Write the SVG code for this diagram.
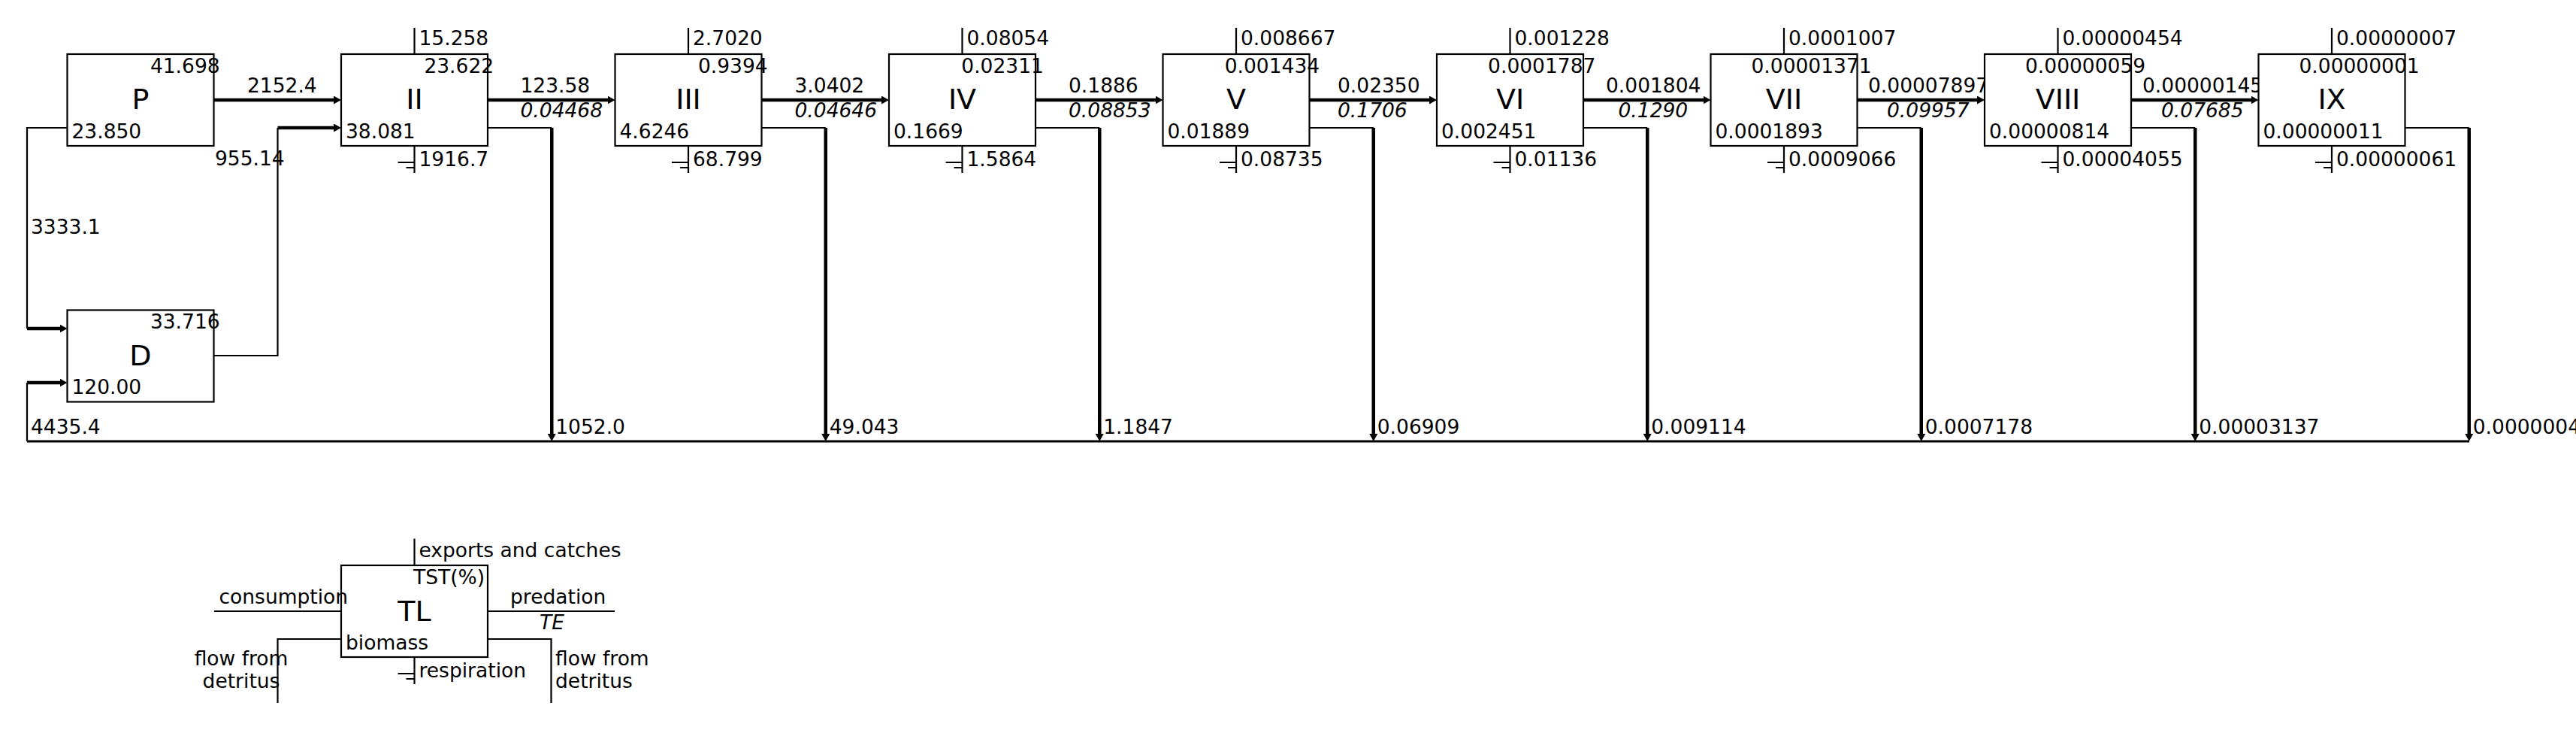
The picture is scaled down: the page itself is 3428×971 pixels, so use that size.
<svg xmlns="http://www.w3.org/2000/svg" width="3428" height="971" viewBox="0 0 3428 971">
<style>
.box{fill:#fff;stroke:#000;stroke-width:2.2}
.thin{fill:none;stroke:#000;stroke-width:2.2}
.thick{fill:none;stroke:#000;stroke-width:4.5}
.mid{fill:none;stroke:#000;stroke-width:3.2}
text{font-family:"DejaVu Sans","Liberation Sans",sans-serif;font-size:26.5px;fill:#000}
.it{font-style:italic}
.nm{font-size:38px;text-anchor:middle}
.ctr{text-anchor:middle}
</style>
<defs>
<marker id="ah" markerUnits="userSpaceOnUse" markerWidth="10" markerHeight="11" viewBox="0 0 10 11" refX="1" refY="5.5" orient="auto">
<path d="M0,0 L10,5.5 L0,11 z" fill="#000"/>
</marker>
</defs>
<rect width="3428" height="971" fill="#fff"/>
<g id="connectors">
<line class="thick" x1="284.5" y1="133" x2="445" y2="133" marker-end="url(#ah)"/>
<line class="thick" x1="649" y1="133" x2="809.5" y2="133" marker-end="url(#ah)"/>
<line class="thick" x1="1013.5" y1="133" x2="1174" y2="133" marker-end="url(#ah)"/>
<line class="thick" x1="1378" y1="133" x2="1538.5" y2="133" marker-end="url(#ah)"/>
<line class="thick" x1="1742.5" y1="133" x2="1903" y2="133" marker-end="url(#ah)"/>
<line class="thick" x1="2107" y1="133" x2="2267.5" y2="133" marker-end="url(#ah)"/>
<line class="thick" x1="2471.5" y1="133" x2="2632" y2="133" marker-end="url(#ah)"/>
<line class="thick" x1="2836" y1="133" x2="2996.5" y2="133" marker-end="url(#ah)"/>
<polyline class="thin" points="89.5,170 36,170 36,437"/>
<line class="thick" x1="36" y1="437" x2="80.5" y2="437" marker-end="url(#ah)"/>
<line class="thin" x1="36" y1="509" x2="36" y2="587"/>
<line class="thick" x1="36" y1="509" x2="80.5" y2="509" marker-end="url(#ah)"/>
<polyline class="thin" points="284.5,473 369.5,473 369.5,170"/>
<line class="thick" x1="369.5" y1="170" x2="445" y2="170" marker-end="url(#ah)"/>
<line class="mid" x1="36" y1="587" x2="3286" y2="587"/>
<line class="thin" x1="649" y1="170" x2="734.25" y2="170"/>
<line class="thick" x1="734.25" y1="170" x2="734.25" y2="578" marker-end="url(#ah)"/>
<line class="thin" x1="1013.5" y1="170" x2="1098.75" y2="170"/>
<line class="thick" x1="1098.75" y1="170" x2="1098.75" y2="578" marker-end="url(#ah)"/>
<line class="thin" x1="1378" y1="170" x2="1463.25" y2="170"/>
<line class="thick" x1="1463.25" y1="170" x2="1463.25" y2="578" marker-end="url(#ah)"/>
<line class="thin" x1="1742.5" y1="170" x2="1827.75" y2="170"/>
<line class="thick" x1="1827.75" y1="170" x2="1827.75" y2="578" marker-end="url(#ah)"/>
<line class="thin" x1="2107" y1="170" x2="2192.25" y2="170"/>
<line class="thick" x1="2192.25" y1="170" x2="2192.25" y2="578" marker-end="url(#ah)"/>
<line class="thin" x1="2471.5" y1="170" x2="2556.75" y2="170"/>
<line class="thick" x1="2556.75" y1="170" x2="2556.75" y2="578" marker-end="url(#ah)"/>
<line class="thin" x1="2836" y1="170" x2="2921.25" y2="170"/>
<line class="thick" x1="2921.25" y1="170" x2="2921.25" y2="578" marker-end="url(#ah)"/>
<line class="thin" x1="3200.5" y1="170" x2="3285.75" y2="170"/>
<line class="thick" x1="3285.75" y1="170" x2="3285.75" y2="578" marker-end="url(#ah)"/>
<text x="329" y="123">2152.4</text>
<text x="692.5" y="123">123.58</text>
<text x="692.5" y="156" class="it">0.04468</text>
<text x="1057.5" y="123">3.0402</text>
<text x="1057.5" y="156" class="it">0.04646</text>
<text x="1422" y="123">0.1886</text>
<text x="1422" y="156" class="it">0.08853</text>
<text x="1780" y="123">0.02350</text>
<text x="1780" y="156" class="it">0.1706</text>
<text x="2137" y="123">0.001804</text>
<text x="2153.5" y="156" class="it">0.1290</text>
<text x="2486" y="123">0.00007897</text>
<text x="2511" y="156" class="it">0.09957</text>
<text x="2851" y="123">0.00000145</text>
<text x="2876" y="156" class="it">0.07685</text>
<text x="41" y="311">3333.1</text>
<text x="41" y="577">4435.4</text>
<text x="286" y="220">955.14</text>
<text x="739.25" y="577">1052.0</text>
<text x="1103.75" y="577">49.043</text>
<text x="1468.25" y="577">1.1847</text>
<text x="1832.75" y="577">0.06909</text>
<text x="2197.25" y="577">0.009114</text>
<text x="2561.75" y="577">0.0007178</text>
<text x="2926.25" y="577">0.00003137</text>
<text x="3290.75" y="577">0.0000004</text>
</g>
<g id="node-P">
<rect class="box" x="89.5" y="72" width="195" height="122"/>
<text class="nm" x="187" y="145">P</text>
<text x="199.9" y="97">41.698</text>
<text x="95.5" y="184">23.850</text>
</g>
<g id="node-D">
<rect class="box" x="89.5" y="412.5" width="195" height="122"/>
<text class="nm" x="187" y="485.5">D</text>
<text x="199.9" y="437">33.716</text>
<text x="95.5" y="524">120.00</text>
</g>
<g id="node-II">
<line class="thin" x1="551.5" y1="37" x2="551.5" y2="72"/>
<line class="thin" x1="551.5" y1="194" x2="551.5" y2="230"/>
<path class="thin" d="M529.5,216H551.5M540.5,223H551.5"/>
<rect class="box" x="454" y="72" width="195" height="122"/>
<text class="nm" x="551.5" y="145">II</text>
<text x="564.4" y="97">23.622</text>
<text x="460" y="184">38.081</text>
<text x="557.5" y="60">15.258</text>
<text x="557.5" y="221">1916.7</text>
</g>
<g id="node-III">
<line class="thin" x1="916" y1="37" x2="916" y2="72"/>
<line class="thin" x1="916" y1="194" x2="916" y2="230"/>
<path class="thin" d="M894,216H916M905,223H916"/>
<rect class="box" x="818.5" y="72" width="195" height="122"/>
<text class="nm" x="916" y="145">III</text>
<text x="928.9" y="97">0.9394</text>
<text x="824.5" y="184">4.6246</text>
<text x="922" y="60">2.7020</text>
<text x="922" y="221">68.799</text>
</g>
<g id="node-IV">
<line class="thin" x1="1280.5" y1="37" x2="1280.5" y2="72"/>
<line class="thin" x1="1280.5" y1="194" x2="1280.5" y2="230"/>
<path class="thin" d="M1258.5,216H1280.5M1269.5,223H1280.5"/>
<rect class="box" x="1183" y="72" width="195" height="122"/>
<text class="nm" x="1280.5" y="145">IV</text>
<text x="1279.3" y="97">0.02311</text>
<text x="1189" y="184">0.1669</text>
<text x="1286.5" y="60">0.08054</text>
<text x="1286.5" y="221">1.5864</text>
</g>
<g id="node-V">
<line class="thin" x1="1645" y1="37" x2="1645" y2="72"/>
<line class="thin" x1="1645" y1="194" x2="1645" y2="230"/>
<path class="thin" d="M1623,216H1645M1634,223H1645"/>
<rect class="box" x="1547.5" y="72" width="195" height="122"/>
<text class="nm" x="1645" y="145">V</text>
<text x="1629.7" y="97">0.001434</text>
<text x="1553.5" y="184">0.01889</text>
<text x="1651" y="60">0.008667</text>
<text x="1651" y="221">0.08735</text>
</g>
<g id="node-VI">
<line class="thin" x1="2009.5" y1="37" x2="2009.5" y2="72"/>
<line class="thin" x1="2009.5" y1="194" x2="2009.5" y2="230"/>
<path class="thin" d="M1987.5,216H2009.5M1998.5,223H2009.5"/>
<rect class="box" x="1912" y="72" width="195" height="122"/>
<text class="nm" x="2009.5" y="145">VI</text>
<text x="1980.1" y="97">0.0001787</text>
<text x="1918" y="184">0.002451</text>
<text x="2015.5" y="60">0.001228</text>
<text x="2015.5" y="221">0.01136</text>
</g>
<g id="node-VII">
<line class="thin" x1="2374" y1="37" x2="2374" y2="72"/>
<line class="thin" x1="2374" y1="194" x2="2374" y2="230"/>
<path class="thin" d="M2352,216H2374M2363,223H2374"/>
<rect class="box" x="2276.5" y="72" width="195" height="122"/>
<text class="nm" x="2374" y="145">VII</text>
<text x="2330.5" y="97">0.00001371</text>
<text x="2282.5" y="184">0.0001893</text>
<text x="2380" y="60">0.0001007</text>
<text x="2380" y="221">0.0009066</text>
</g>
<g id="node-VIII">
<line class="thin" x1="2738.5" y1="37" x2="2738.5" y2="72"/>
<line class="thin" x1="2738.5" y1="194" x2="2738.5" y2="230"/>
<path class="thin" d="M2716.5,216H2738.5M2727.5,223H2738.5"/>
<rect class="box" x="2641" y="72" width="195" height="122"/>
<text class="nm" x="2738.5" y="145">VIII</text>
<text x="2695" y="97">0.00000059</text>
<text x="2647" y="184">0.00000814</text>
<text x="2744.5" y="60">0.00000454</text>
<text x="2744.5" y="221">0.00004055</text>
</g>
<g id="node-IX">
<line class="thin" x1="3103" y1="37" x2="3103" y2="72"/>
<line class="thin" x1="3103" y1="194" x2="3103" y2="230"/>
<path class="thin" d="M3081,216H3103M3092,223H3103"/>
<rect class="box" x="3005.5" y="72" width="195" height="122"/>
<text class="nm" x="3103" y="145">IX</text>
<text x="3059.5" y="97">0.00000001</text>
<text x="3011.5" y="184">0.00000011</text>
<text x="3109" y="60">0.00000007</text>
<text x="3109" y="221">0.00000061</text>
</g>
<g id="legend-TL">
<line class="thin" x1="551.5" y1="716.5" x2="551.5" y2="752"/>
<line class="thin" x1="551.5" y1="874" x2="551.5" y2="910"/>
<path class="thin" d="M529.5,896H551.5M540.5,903H551.5"/>
<line class="thin" x1="285" y1="813" x2="454" y2="813"/>
<line class="thin" x1="649" y1="813" x2="818" y2="813"/>
<polyline class="thin" points="454,850 369.5,850 369.5,935"/>
<polyline class="thin" points="649,850 733.5,850 733.5,935"/>
<rect class="box" x="454" y="752" width="195" height="122"/>
<text class="nm" x="551.5" y="825.5">TL</text>
<text x="550" y="777">TST(%)</text>
<text x="460" y="864">biomass</text>
<text x="557.5" y="740.5">exports and catches</text>
<text x="557.5" y="900.5">respiration</text>
<text x="291.5" y="803">consumption</text>
<text x="679" y="803">predation</text>
<text x="718" y="836.5" class="it">TE</text>
<text class="ctr" x="321" y="885">flow from</text>
<text class="ctr" x="321" y="915">detritus</text>
<text x="739" y="885">flow from</text>
<text x="739" y="915">detritus</text>
</g>
</svg>
